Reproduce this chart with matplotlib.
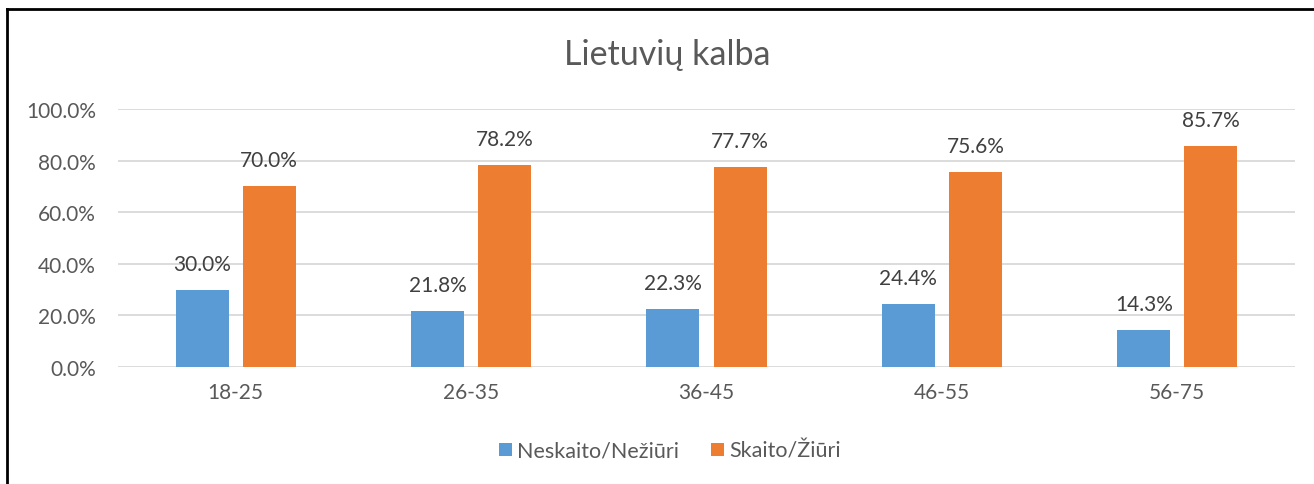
import matplotlib
matplotlib.use("Agg")
import matplotlib.pyplot as plt
from matplotlib.lines import Line2D
import numpy as np

categories = ["18-25", "26-35", "36-45", "46-55", "56-75"]
neskaito = [30.0, 21.8, 22.3, 24.4, 14.3]
skaito = [70.0, 78.2, 77.7, 75.6, 85.7]
series_names = ["Neskaito/Nežiūri", "Skaito/Žiūri"]
title = "Lietuvių kalba"
yticks = [0, 20, 40, 60, 80, 100]

plt.rcParams['font.family'] = ['Lato', 'DejaVu Sans']
W, H = 1314, 485
fig = plt.figure(figsize=(W/100, H/100), dpi=100)
fig.patch.set_facecolor('white')

ax = fig.add_axes([118/W, 1-368/H, (1295-118)/W, (368-110)/H])
x = np.arange(len(categories))
bw = 0.225
off = 0.1425
blue = '#5B9BD5'
orange = '#ED7D31'
b1 = ax.bar(x - off, neskaito, bw, color=blue, label=series_names[0], zorder=3)
b2 = ax.bar(x + off, skaito, bw, color=orange, label=series_names[1], zorder=3)
txtc = '#404040'
for rects, vals in ((b1, neskaito), (b2, skaito)):
    for r, v in zip(rects, vals):
        ax.annotate(f"{v:.1f}%", (r.get_x() + r.get_width()/2, v), xytext=(0, 11.5),
                    textcoords='offset points', ha='center', va='bottom',
                    fontsize=15, color=txtc)

ax.set_xlim(-0.5, len(categories) - 0.5)
ax.set_ylim(0, 100)
ax.set_yticks(yticks)
ax.set_yticklabels([f"{t:.1f}%" for t in yticks])
ax.set_xticks(x)
ax.set_xticklabels(categories)
ax.tick_params(axis='both', length=0, labelsize=15, colors='#595959')
ax.tick_params(axis='x', pad=11)
ax.tick_params(axis='y', pad=16)
ax.grid(axis='y', color='#D9D9D9', linewidth=1.3, zorder=0)
for s in ax.spines.values():
    s.set_visible(False)
ax.set_axisbelow(True)

fig.text(667/W, 1-55/H, title, ha='center', va='center', fontsize=24.5, color='#595959')

leg = fig.legend(handles=[b1, b2], labels=series_names, loc='center', bbox_to_anchor=(670/W, 1-452/H),
                 ncol=2, frameon=False, fontsize=15.5, handlelength=0.6, handleheight=0.6,
                 handletextpad=0.25, columnspacing=1.5)
for t in leg.get_texts():
    t.set_color('#595959')

# border lines (top and left)
fig.add_artist(Line2D([6.5/W, 1], [1-10/H, 1-10/H], color='black', linewidth=2, transform=fig.transFigure))
fig.add_artist(Line2D([6.5/W, 6.5/W], [0, 1-10/H], color='black', linewidth=2, transform=fig.transFigure))

fig.savefig("out.png", dpi=100, facecolor='white')
